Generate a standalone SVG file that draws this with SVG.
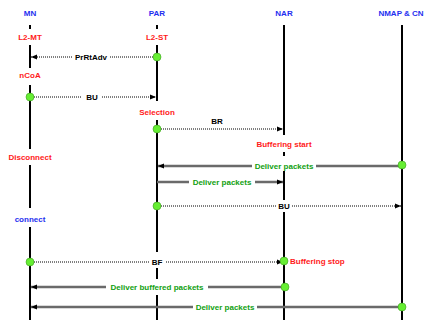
<svg xmlns="http://www.w3.org/2000/svg" width="426" height="320" viewBox="0 0 426 320">
  <style>
    text { font-family: "Liberation Sans", "DejaVu Sans", sans-serif; font-size: 8px; font-weight: bold; text-anchor: middle; }
    .head { fill: #1f2ff0; }
    .state { fill: #ff1a1a; }
    .conn { fill: #1f2ff0; }
    .data { fill: #11a011; }
    .sig { fill: #000; }
    .life { stroke: #000; stroke-width: 2; fill: none; }
    .dot { stroke: #000; stroke-width: 1; stroke-dasharray: 1 1; fill: none; }
    .pkt { stroke: #6a6a6a; stroke-width: 2.6; fill: none; }
    .pin { fill: #66ee33; stroke: #3f9f22; stroke-width: 0.6; }
  </style>
  <defs>
    <marker id="head" markerUnits="userSpaceOnUse" markerWidth="6" markerHeight="6" refX="6" refY="3" orient="auto">
      <path d="M0,0.5 L6,3 L0,5.5 z" fill="#000"/>
    </marker>
  </defs>
  <rect width="426" height="320" fill="#fff"/>

  <!-- MN lifeline -->
  <g id="mn">
    <text class="head" x="30" y="16">MN</text>
    <path class="life" d="M30,25 V29 M30,45 V68 M30,85 V149 M30,165 V208 M30,227 V320"/>
    <text class="state" x="30" y="40">L2-MT</text>
    <text class="state" x="30" y="78">nCoA</text>
    <text class="state" x="30" y="160">Disconnect</text>
    <text class="conn" x="30" y="222">connect</text>
  </g>

  <!-- PAR lifeline -->
  <g id="par">
    <text class="head" x="157" y="16">PAR</text>
    <path class="life" d="M157,25 V29 M157,45 V101 M157,120 V252 M157,268 V279 M157,295 V320"/>
    <text class="state" x="157" y="40">L2-ST</text>
    <text class="state" x="157" y="115">Selection</text>
  </g>

  <!-- NAR lifeline -->
  <g id="nar">
    <text class="head" x="284" y="16">NAR</text>
    <path class="life" d="M284,25 V135 M284,152 V156 M284,171 V200 M284,212 V320"/>
    <text class="state" x="284" y="147">Buffering start</text>
    <text class="state" x="290" y="264" style="text-anchor:start">Buffering stop</text>
  </g>

  <!-- NMAP & CN lifeline -->
  <g id="nmap-cn">
    <text class="head" x="401" y="16">NMAP &amp; CN</text>
    <path class="life" d="M402,25 V320"/>
  </g>

  <!-- messages -->
  <g id="connectors">
    <path class="dot" d="M155,57 H110 M72,57 H31" marker-end="url(#head)"/>
    <text class="sig" x="91" y="60">PrRtAdv</text>

    <path class="dot" d="M30,97 H82 M102,97 H156" marker-end="url(#head)"/>
    <text class="sig" x="92" y="100">BU</text>

    <path class="dot" d="M157,129 H283" marker-end="url(#head)"/>
    <text class="sig" x="217" y="124">BR</text>

    <path class="pkt" d="M402,166 H316 M252,166 H158" marker-end="url(#head)"/>
    <text class="data" x="284" y="169">Deliver packets</text>

    <path class="pkt" d="M157,182 H189 M255,182 H283" marker-end="url(#head)"/>
    <text class="data" x="222" y="185">Deliver packets</text>

    <path class="dot" d="M157,206 H276 M292,206 H401" marker-end="url(#head)"/>
    <text class="sig" x="284" y="209">BU</text>

    <path class="dot" d="M30,262 H149 M166,262 H283" marker-end="url(#head)"/>
    <text class="sig" x="157" y="265">BF</text>

    <path class="pkt" d="M284,287 H208 M106,287 H31" marker-end="url(#head)"/>
    <text class="data" x="157" y="290">Deliver buffered packets</text>

    <path class="pkt" d="M402,307 H257 M193,307 H31" marker-end="url(#head)"/>
    <text class="data" x="225" y="310">Deliver packets</text>
  </g>

  <!-- event points -->
  <g id="events">
    <circle class="pin" cx="157" cy="57" r="4"/>
    <circle class="pin" cx="30" cy="97" r="4"/>
    <circle class="pin" cx="157" cy="129" r="4"/>
    <circle class="pin" cx="402" cy="165" r="4"/>
    <circle class="pin" cx="157" cy="206" r="4"/>
    <circle class="pin" cx="30" cy="262" r="4"/>
    <circle class="pin" cx="284" cy="261" r="4"/>
    <circle class="pin" cx="285" cy="287" r="4"/>
    <circle class="pin" cx="402" cy="307" r="4"/>
  </g>
</svg>
